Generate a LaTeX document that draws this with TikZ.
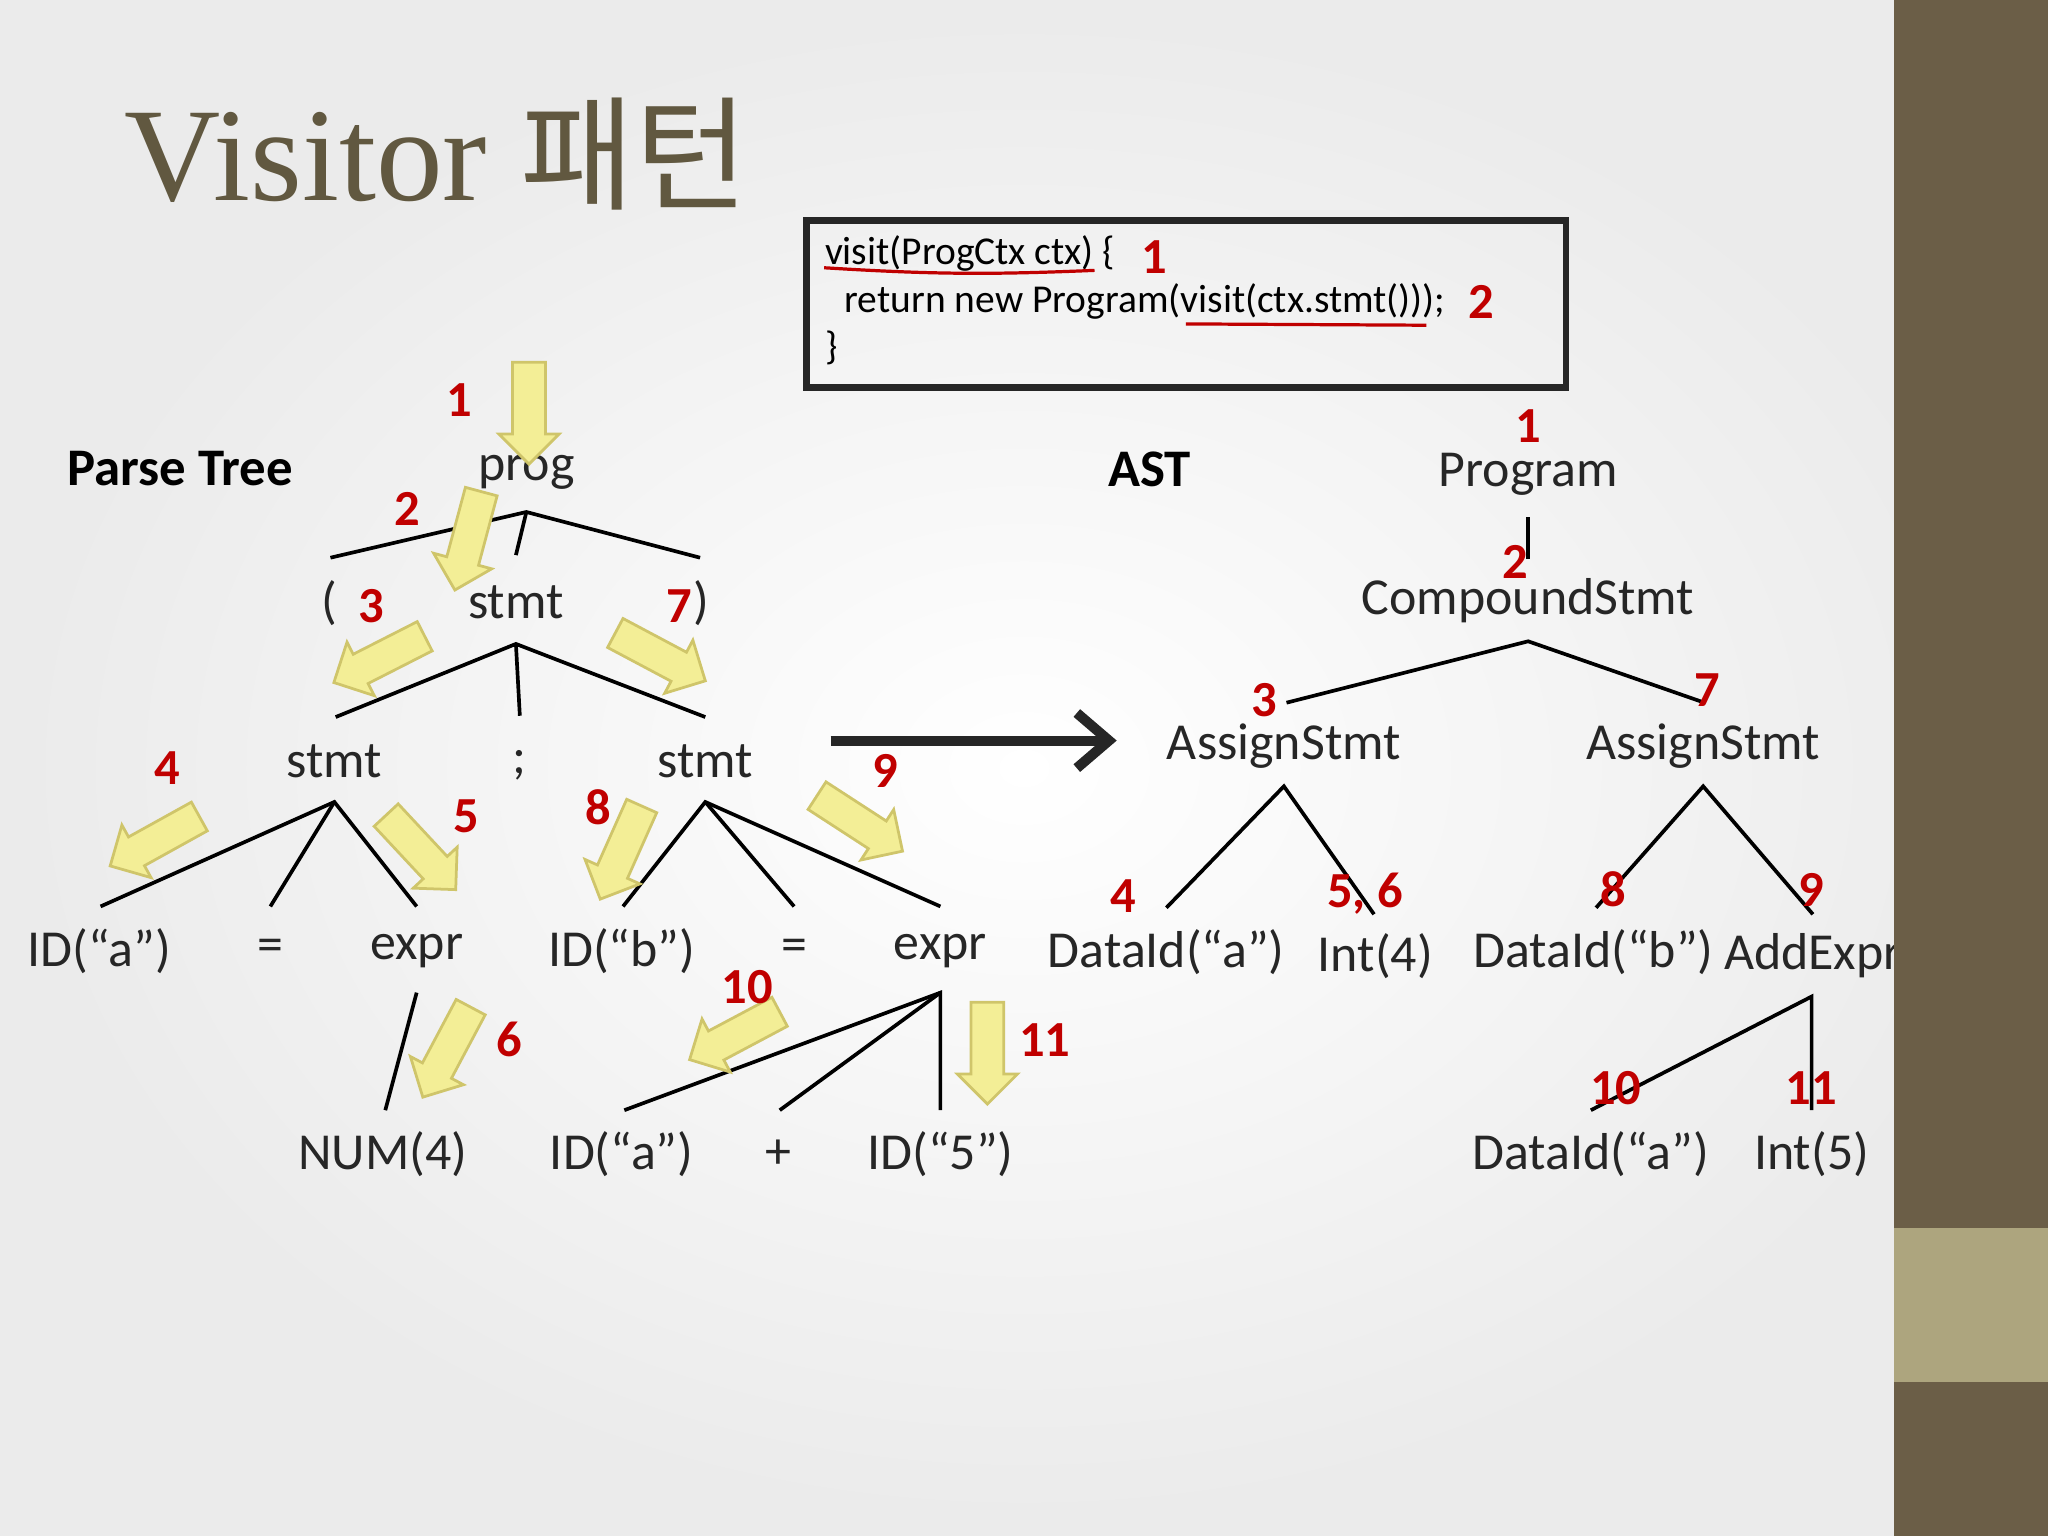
\documentclass[tikz,border=0pt]{standalone}
\usepackage{fontspec}
\setmainfont{Carlito}
\newfontfamily\titlefont{Liberation Serif}
\newfontfamily\kr{Noto Sans CJK KR}
\usetikzlibrary{shapes.arrows,arrows.meta}
\definecolor{redn}{HTML}{C00000}
\definecolor{barbrown}{HTML}{6B5E47}
\definecolor{barlight}{HTML}{ADA57E}
\definecolor{titlec}{HTML}{615840}
\definecolor{yfill}{HTML}{F3EE96}
\definecolor{yline}{HTML}{CFC56A}
\begin{document}
\begin{tikzpicture}[x=0.01cm,y=-0.01cm,
  txt/.style={font=\fontsize{11.3}{13}\selectfont,inner sep=0pt,text=black!85},
  num/.style={font=\fontsize{11}{13}\selectfont\bfseries,text=redn,inner sep=0pt},
  yarr/.style={single arrow,draw=yline,fill=yfill,line width=0.6pt,minimum height=0.78cm,minimum width=0.46cm,single arrow head extend=0.1cm,single arrow tip angle=90,inner xsep=0pt,inner ysep=0.11cm},
  tl/.style={line width=0.8pt,black}]
\useasboundingbox (0,0) rectangle (1568,1176);
\shade[inner color=white,outer color=black!8] (0,0) rectangle (1568,1176);
% title
\node[anchor=west,inner sep=0pt,text=titlec] (title) at (95,118) {\titlefont\fontsize{29}{32}\selectfont Visitor \kr\fontsize{27}{30}\selectfont 패턴};
% code box
\node[draw=black!85,line width=1.5pt,minimum width=5.81cm,minimum height=1.28cm,anchor=north west] (box) at (615,166) {};
\node[anchor=west,inner sep=0pt,font=\fontsize{8.6}{10}\selectfont] (c1) at (631,194) {visit(ProgCtx ctx) \{};
\node[anchor=west,inner sep=0pt,font=\fontsize{8.6}{10}\selectfont] (c2) at (646,231) {return new Program(visit(ctx.stmt()));};
\node[anchor=west,inner sep=0pt,font=\fontsize{8.6}{10}\selectfont] (c3) at (631,266) {\}};
\node[num] (cn1) at (884,197) {1};
\node[num] (cn2) at (1134,231) {2};
\coordinate (u1a) at (631,205); \coordinate (u1b) at (838,207);
\coordinate (u2a) at (908,248); \coordinate (u2b) at (1092,249);
\draw[redn,line width=0.7pt] (u1a) to[bend right=3] (u1b);
\draw[redn,line width=0.7pt] (u2a) -- (u2b);
% labels
\node[font=\fontsize{11.5}{13}\selectfont\bfseries,inner sep=0pt] (pt) at (138,359) {Parse Tree};
\node[font=\fontsize{11.5}{13}\selectfont\bfseries,inner sep=0pt] (ast) at (880,359) {AST};
% parse tree nodes
\node[txt] (prog) at (403,362) {prog};
\node[txt] (lp) at (252,462) {(};
\node[txt] (stmt0) at (395,461) {stmt};
\node[txt] (rp) at (537,462) {)};
\node[txt] (stmtL) at (256,583) {stmt};
\node[txt] (semi) at (398,586) {;};
\node[txt] (stmtR) at (540,583) {stmt};
\node[txt] (ida) at (76,728) {ID(“a”)};
\node[txt] (eq1) at (207,728) {=};
\node[txt] (expr1) at (319,728) {expr};
\node[txt] (idb) at (476,728) {ID(“b”)};
\node[txt] (eq2) at (608,728) {=};
\node[txt] (expr2) at (720,728) {expr};
\node[txt] (num4) at (293,884) {NUM(4)};
\node[txt] (ida2) at (476,884) {ID(“a”)};
\node[txt] (plus) at (596,884) {+};
\node[txt] (id5) at (720,884) {ID(“5”)};
% parse tree lines
\coordinate (a0) at (403,392);
\coordinate (a1) at (253,427); \coordinate (a2) at (395,425); \coordinate (a3) at (536,427);
\coordinate (b0) at (395,493);
\coordinate (b1) at (257,549); \coordinate (b2) at (398,548); \coordinate (b3) at (540,549);
\coordinate (c0) at (256,614);
\coordinate (c1p) at (77,694); \coordinate (c2p) at (207,694); \coordinate (c3p) at (319,694);
\coordinate (d0) at (540,614);
\coordinate (d1) at (477,694); \coordinate (d2) at (608,694); \coordinate (d3) at (720,694);
\coordinate (e0) at (319,760); \coordinate (e1) at (295,850);
\coordinate (f0) at (720,760);
\coordinate (f1) at (478,850); \coordinate (f2) at (597,850); \coordinate (f3) at (720,850);
\draw[tl] (a1) -- (a0) -- (a3); \draw[tl] (a0) -- (a2);
\draw[tl] (b1) -- (b0) -- (b3); \draw[tl] (b0) -- (b2);
\draw[tl] (c1p) -- (c0) -- (c3p); \draw[tl] (c0) -- (c2p);
\draw[tl] (d1) -- (d0) -- (d3); \draw[tl] (d0) -- (d2);
\draw[tl] (e0) -- (e1);
\draw[tl] (f1) -- (f0) -- (f3); \draw[tl] (f0) -- (f2);
% yellow arrows
\node[yarr,rotate=-90] (y1) at (405,310) {};
\node[yarr,rotate=-105] (y2) at (360,408) {};
\node[yarr,rotate=-153] (y3) at (296,502) {};
\node[yarr,rotate=-28] (y7) at (500,500) {};
\node[yarr,rotate=-151] (y4) at (124,641) {};
\node[yarr,rotate=-47] (y5) at (318,648) {};
\node[yarr,rotate=-114] (y8) at (478,647) {};
\node[yarr,rotate=-33] (y9) at (653,627) {};
\node[yarr,rotate=-118] (y6) at (345,800) {};
\node[yarr,rotate=-152] (y10) at (568,790) {};
\node[yarr,rotate=-90] (y11) at (756,800) {};
% parse tree numbers
\node[num] (p1) at (352,306) {1};
\node[num] (p2) at (312,390) {2};
\node[num] (p3) at (284,464) {3};
\node[num] (p7) at (520,464) {7};
\node[num] (p4) at (128,588) {4};
\node[num] (p5) at (357,625) {5};
\node[num] (p8) at (458,618) {8};
\node[num] (p9) at (678,590) {9};
\node[num] (p6) at (390,796) {6};
\node[num] (p10) at (572,756) {10};
\node[num] (p11) at (800,796) {11};
% big arrow
\coordinate (ba) at (636,567); \coordinate (bb) at (855,567);
\draw[line width=2.2pt,black!85,-{Straight Barb[length=7pt,width=12pt]}] (ba) -- (bb);
% AST
\node[txt] (program) at (1170,363) {Program};
\node[txt] (comp) at (1170,460) {CompoundStmt};
\node[txt] (as1) at (983,571) {AssignStmt};
\node[txt] (as2) at (1304,571) {AssignStmt};
\node[txt] (da) at (893,729) {DataId(“a”)};
\node[txt] (i4) at (1053,732) {Int(4)};
\node[txt] (db) at (1220,729) {DataId(“b”)};
\node[txt] (add) at (1388,732) {AddExpr};
\node[txt] (da2) at (1218,884) {DataId(“a”)};
\node[txt] (i5) at (1387,884) {Int(5)};
\coordinate (g0) at (1170,396); \coordinate (g1) at (1170,428);
\coordinate (h0) at (1170,491); \coordinate (h1) at (985,538); \coordinate (h2) at (1305,538);
\coordinate (k0) at (983,602); \coordinate (k1) at (893,695); \coordinate (k2) at (1052,700);
\coordinate (m0) at (1304,602); \coordinate (m1) at (1222,695); \coordinate (m2) at (1388,700);
\coordinate (n0) at (1387,763); \coordinate (n1) at (1218,850); \coordinate (n2) at (1387,850);
\draw[tl] (g0) -- (g1);
\draw[tl] (h1) -- (h0) -- (h2);
\draw[tl] (k1) -- (k0) -- (k2);
\draw[tl] (m1) -- (m0) -- (m2);
\draw[tl] (n1) -- (n0) -- (n2);
\node[num] (q1) at (1170,326) {1};
\node[num] (q2) at (1160,430) {2};
\node[num] (q3) at (968,536) {3};
\node[num] (q7) at (1307,528) {7};
\node[num] (q4) at (860,686) {4};
\node[num] (q56) at (1045,684) {5, 6};
\node[num] (q8) at (1235,681) {8};
\node[num] (q9) at (1387,681) {9};
\node[num] (q10) at (1237,833) {10};
\node[num] (q11) at (1387,833) {11};
% side bar
\fill[barbrown] (1450,0) rectangle (1568,1176);
\fill[barlight] (1450,940) rectangle (1568,1058);
\end{tikzpicture}
\end{document}
